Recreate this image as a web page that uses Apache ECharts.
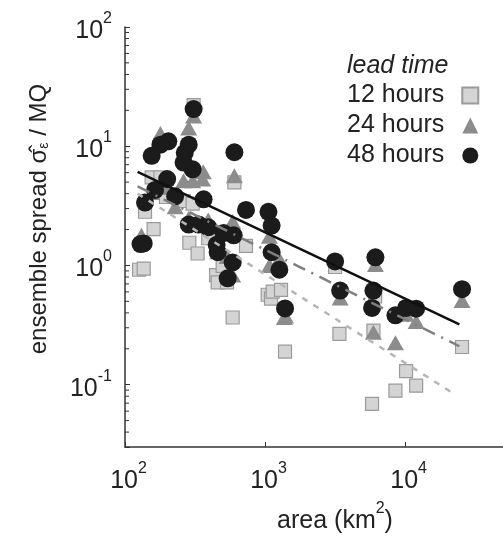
<!DOCTYPE html>
<html><head><meta charset="utf-8">
<script src="https://cdn.jsdelivr.net/npm/echarts@6/dist/echarts.min.js"></script>
<style>html,body{margin:0;padding:0;background:#fff}#c{width:503px;height:539px}</style>
</head><body><div id="c"></div><script>
// 12 hours (squares)
const area12 = [309,155,179,196,262,304,139,160,288,330,393,604,731,126,136,447,459,535,498,587,1044,1103,1133,1300,1389,3162,6110,3396,5940,10160,8530,11990,5807,25500];
const spread12 = [22.1,5.47,5.47,3.75,3.47,3.3,2.82,2.02,1.55,1.26,1.69,4.98,1.46,0.92,0.94,0.83,0.72,0.72,0.99,0.366,0.568,0.526,0.604,0.624,0.189,0.97,0.55,0.267,0.284,0.13,0.089,0.098,0.069,0.207];
// 24 hours (triangles)
const area24 = [179,285,309,362,262,304,358,604,228,131,285,393,587,535,587,1074,1074,1265,1374,6137,3436,1400,5940,8530,10160,11990,25500,155,459,200];
const spread24 = [12.8,14.2,17.9,6.12,5.14,5.14,5.3,5.65,3.1,1.79,2.49,2.41,2.34,1.19,0.83,1.76,1.0,1.13,0.366,1.02,0.533,0.377,0.275,0.225,0.39,0.339,0.507,4.1,1.3,4.5];
// 48 hours (circles)
const area48 = [309,204,179,155,285,267,262,304,604,200,164,139,228,364,731,1057,1114,285,336,393,506,597,451,459,129,136,1114,587,1265,541,1389,3162,6137,3436,5940,5807,8530,10160,11990,25500];
const spread48 = [20.5,11.0,10.3,8.3,10.3,8.8,7.3,6.4,8.9,5.3,4.3,3.37,3.8,3.59,2.92,2.82,2.16,2.2,2.2,2.09,1.87,1.79,1.49,1.29,1.51,1.53,1.29,1.06,0.92,0.78,0.436,1.08,1.17,0.615,0.615,0.44,0.382,0.44,0.434,0.632];
// fitted power-law lines (end points)
const fitArea12 = [123, 23000], fit12 = [4.0, 0.082];
const fitArea24 = [123, 24400], fit24 = [4.6, 0.21];
const fitArea48 = [123, 24400], fit48 = [6.1, 0.32];
// axis
const xMin = 100, xMax = 50000, yMin = 0.03, yMax = 100;
const yMinorTicks = [0.04,0.05,0.06,0.07,0.08,0.09,0.2,0.3,0.4,0.5,0.6,0.7,0.8,0.9,2,3,4,5,6,7,8,9,20,30,40,50,60,70,80,90];
const seriesNames = ['12 hours','24 hours','48 hours'];

const FF = '"Liberation Sans", Arial, sans-serif';
const zip = (a,b) => a.map((v,i)=>[v,b[i]]);
const powLabel = v => { const e = Math.log10(v); const r = Math.round(e); if (Math.abs(e-r) > 1e-6) return ''; return '{b|10}{e|' + r + '}'; };
const labRich = { b:{fontSize:25, fontFamily:FF, color:'#222', padding:[8,0,0,0]}, e:{fontSize:16, fontFamily:FF, color:'#222', verticalAlign:'top'} };

const chart = echarts.init(document.getElementById('c'), null, {renderer:'canvas'});
chart.setOption({
  animation:false,
  backgroundColor:'#fff',
  grid:{left:125, top:27, right:0, bottom:84},
  title:{text:'lead time', left:342, top:49, textStyle:{fontFamily:FF, fontSize:25, fontStyle:'italic', fontWeight:'normal', color:'#222'}},
  legend:{
    data:seriesNames, orient:'vertical', left:342, top:78, align:'right',
    itemWidth:16, itemHeight:16, itemGap:5,
    textStyle:{fontFamily:FF, fontSize:25, color:'#222', lineHeight:25, padding:[0,13,0,0]}
  },
  xAxis:{
    type:'log', min:xMin, max:xMax, logBase:10,
    axisLine:{lineStyle:{color:'#333', width:1.5}},
    axisTick:{inside:true, length:5, lineStyle:{color:'#333'}},
    splitLine:{show:false},
    axisLabel:{formatter:powLabel, rich:labRich, margin:14, showMaxLabel:false, padding:[0,0,0,7]},
    name:'{a|area (km}{s|2}{a|)}', nameLocation:'middle', nameGap:54,
    nameTextStyle:{padding:[0,0,0,42], rich:{a:{fontSize:25, fontFamily:FF, color:'#222', padding:[8,0,0,0]}, s:{fontSize:16, fontFamily:FF, color:'#222', verticalAlign:'top'}}}
  },
  yAxis:{
    type:'log', min:yMin, max:yMax, logBase:10,
    axisLine:{lineStyle:{color:'#333', width:1.5}},
    axisTick:{inside:true, length:5, lineStyle:{color:'#333'}},
    splitLine:{show:false},
    axisLabel:{formatter:powLabel, rich:labRich, margin:13},
    name:'{a|ensemble spread }{a|σ̂}{u|ε}{a| / MQ}', nameLocation:'middle', nameGap:74,
    nameTextStyle:{padding:[0,0,0,36], rich:{a:{fontSize:24, fontFamily:FF, color:'#222'}, u:{fontSize:14, fontFamily:FF, color:'#222', verticalAlign:'bottom', padding:[10,0,0,0]}}}
  },
  series:[
    {type:'custom', silent:true, clip:false, z:1, data:yMinorTicks.map(v=>[xMin, v]),
     renderItem:(p, api)=>{ const c = api.coord([api.value(0), api.value(1)]); return {type:'line', shape:{x1:c[0], y1:c[1], x2:c[0]+4, y2:c[1]}, style:{stroke:'#333', lineWidth:1}}; }},
    {name:'12 hours', type:'scatter', symbol:'rect', symbolSize:13, z:2, data:zip(area12, spread12),
     itemStyle:{color:'#d4d4d4', borderColor:'#9a9a9a', borderWidth:1.2, opacity:1}},
    {name:'24 hours', type:'scatter', symbol:'triangle', symbolSize:[17,15], z:3, data:zip(area24, spread24),
     itemStyle:{color:'#8c8c8c', opacity:1}},
    {name:'48 hours', type:'scatter', symbol:'circle', symbolSize:18, z:4, data:zip(area48, spread48),
     itemStyle:{color:'#1b1b1b', opacity:1}},
    {type:'line', z:5, silent:true, symbol:'none', data:zip(fitArea12, fit12), lineStyle:{color:'#b5b5b5', width:2.5, type:[6,7]}},
    {type:'line', z:5, silent:true, symbol:'none', data:zip(fitArea24, fit24), lineStyle:{color:'#7f7f7f', width:2.5, type:[13,7,2,7]}},
    {type:'line', z:6, silent:true, symbol:'none', data:zip(fitArea48, fit48), lineStyle:{color:'#111', width:2.5}}
  ]
});
</script></body></html>
